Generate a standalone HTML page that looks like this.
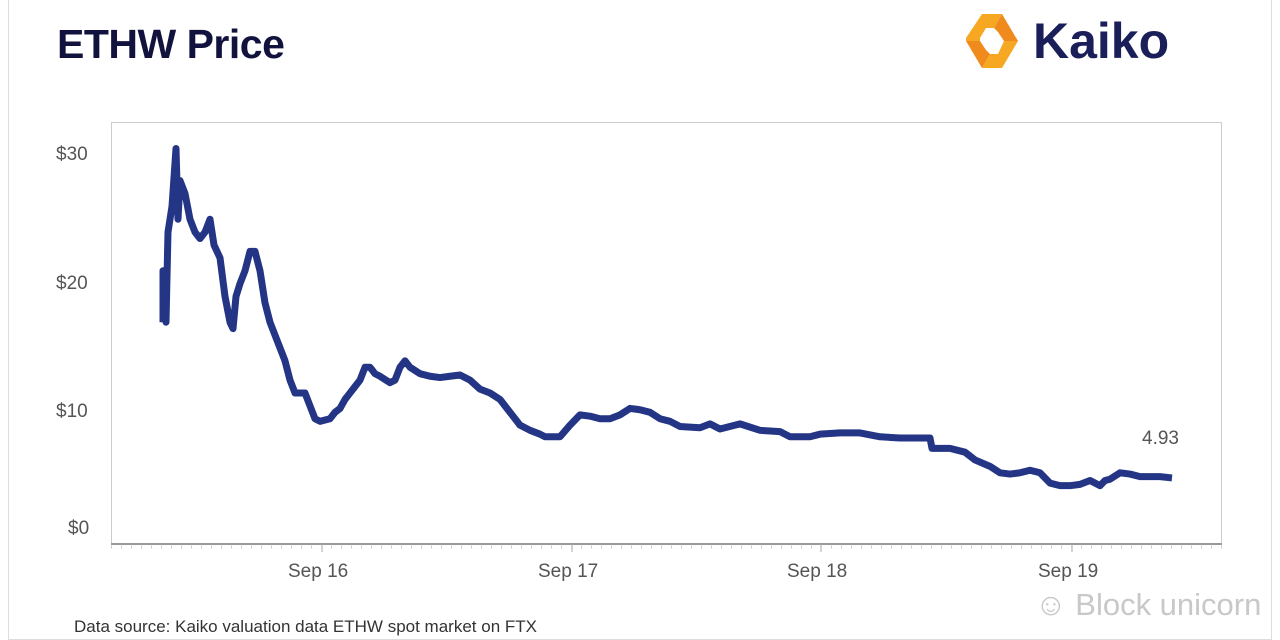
<!DOCTYPE html>
<html><head><style>
body{margin:0;background:#fff;width:1280px;height:629px;overflow:hidden;position:relative;font-family:"Liberation Sans",sans-serif}
.frame{position:absolute;left:8px;top:-2px;width:1262px;height:640px;border:1px solid #ddd}
.title{position:absolute;left:57px;top:21px;font-size:41px;font-weight:bold;color:#12123e;letter-spacing:-0.5px}
.kaiko{position:absolute;left:1033px;top:12px;font-size:50px;font-weight:bold;color:#1a1f5a}
.lbl{position:absolute;font-size:19px;color:#555}
.foot{position:absolute;left:74px;top:617px;font-size:17px;color:#333}
.wm{position:absolute;left:1035px;top:587px;font-size:31px;color:#c8c8c8}
</style></head><body>
<div class="frame"></div>
<div class="title">ETHW Price</div>
<svg style="position:absolute;left:960px;top:12px" width="64" height="58" viewBox="0 0 64 58">
<polygon points="22,2 42,2 34,16 26,16 20,26 6,26" fill="#f7a823"/>
<polygon points="42,2 58,29 44,29 38,20 34,16" fill="#f08a1c"/>
<polygon points="58,29 42,56 22,56 30,42 38,42 44,29" fill="#f7a823"/>
<polygon points="22,56 6,29 20,29 26,38 30,42" fill="#f08a1c"/>
<polygon points="6,26 20,26 20,29 6,29" fill="#f7a823"/>
</svg>
<div class="kaiko">Kaiko</div>
<svg style="position:absolute;left:0;top:0" width="1280" height="629">
<rect x="111.5" y="122.5" width="1110" height="421" fill="none" stroke="#ccc"/>
<line x1="111" y1="544" x2="1222" y2="544" stroke="#999" stroke-width="2"/>
<g stroke="#aaa" stroke-width="1">
<line x1="322" y1="544" x2="322" y2="552"/><line x1="572" y1="544" x2="572" y2="552"/><line x1="821" y1="544" x2="821" y2="552"/><line x1="1072" y1="544" x2="1072" y2="552"/>
</g>
<line x1="111" y1="547" x2="1222" y2="547" stroke="#ccc" stroke-width="3" stroke-dasharray="1 9"/>
<g transform="translate(0,541) scale(1,-12.87)">
<polyline vector-effect="non-scaling-stroke" fill="none" stroke="#233584" stroke-width="7" stroke-linejoin="round" points="163,17 163,21 166,17 168,24 172,26 176,30.5 178,25 180,28 185,27 190,25 195,24 200,23.5 205,24 210,25 214,23 220,22 225,19 230,17 233,16.5 236,19 240,20 245,21 250,22.5 255,22.5 260,21 265,18.5 270,17 275,16 280,15 285,14 290,12.5 295,11.5 300,11.5 305,11.5 310,10.5 315,9.5 320,9.3 330,9.5 335,10 340,10.3 345,11 350,11.5 355,12 360,12.5 365,13.5 370,13.5 375,13 380,12.8 390,12.3 395,12.5 400,13.5 405,14 410,13.5 420,13 430,12.8 440,12.7 450,12.8 460,12.9 470,12.5 480,11.8 490,11.5 500,11 510,10 520,9 530,8.6 540,8.3 545,8.1 560,8.1 570,9 580,9.8 590,9.7 600,9.5 610,9.5 620,9.8 630,10.3 640,10.2 650,10 660,9.5 670,9.3 680,8.9 700,8.8 710,9.1 720,8.7 740,9.1 760,8.6 780,8.5 790,8.1 810,8.1 820,8.3 840,8.4 860,8.4 880,8.1 900,8.0 920,8.0 930,8.0 932,7.2 950,7.2 965,6.9 975,6.3 990,5.8 1000,5.3 1010,5.2 1020,5.3 1030,5.5 1040,5.3 1050,4.5 1060,4.3 1070,4.3 1080,4.4 1090,4.7 1100,4.3 1105,4.7 1110,4.8 1120,5.3 1130,5.2 1140,5.0 1150,5.0 1160,5.0 1172,4.9"/>
</g>
</svg>
<div class="lbl" style="left:56px;top:144px">$30</div>
<div class="lbl" style="left:56px;top:273px">$20</div>
<div class="lbl" style="left:56px;top:401px">$10</div>
<div class="lbl" style="left:68px;top:518px">$0</div>
<div class="lbl" style="left:1142px;top:428px">4.93</div>
<div class="lbl" style="left:288px;top:561px">Sep 16</div>
<div class="lbl" style="left:538px;top:561px">Sep 17</div>
<div class="lbl" style="left:787px;top:561px">Sep 18</div>
<div class="lbl" style="left:1038px;top:561px">Sep 19</div>
<div class="foot">Data source: Kaiko valuation data ETHW spot market on FTX</div>
<div class="wm">&#9786; Block unicorn</div>
</body></html>
